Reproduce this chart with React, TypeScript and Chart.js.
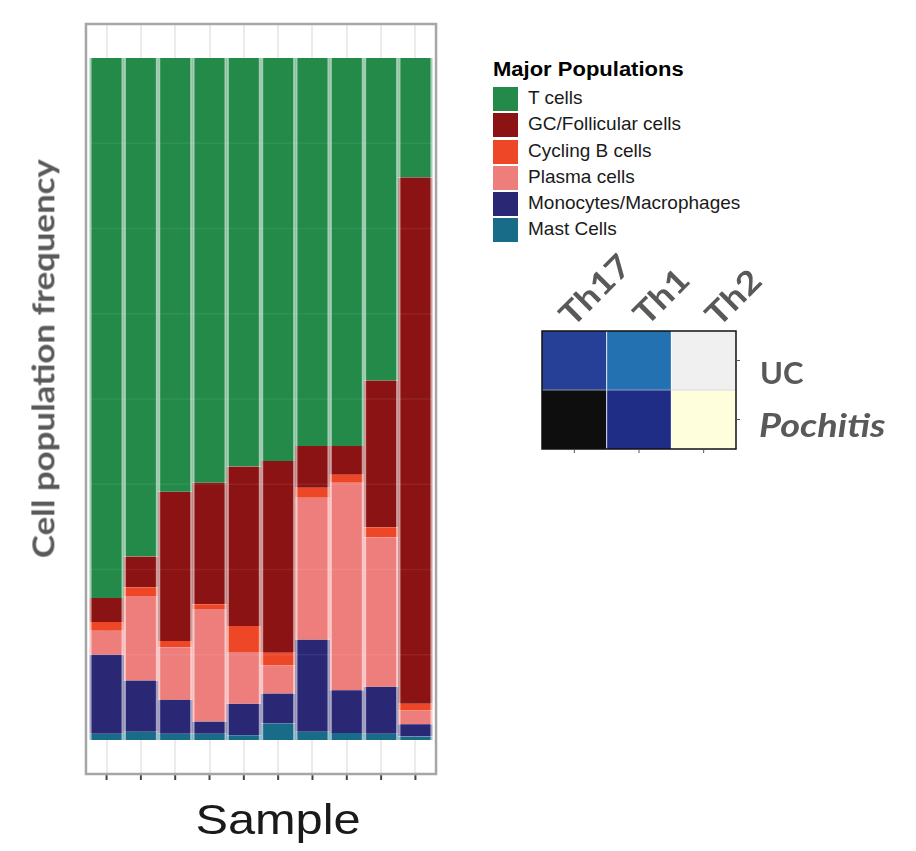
import React, { useEffect, useRef } from "react";
import { Chart, registerables } from "chart.js";

Chart.register(...registerables);

// ---------- data ----------
const samples = ["S1", "S2", "S3", "S4", "S5", "S6", "S7", "S8", "S9", "S10"];
const populations = [
  "T cells",
  "GC/Follicular cells",
  "Cycling B cells",
  "Plasma cells",
  "Monocytes/Macrophages",
  "Mast Cells",
];
const popColors = ["#238a49", "#8b1313", "#ee4727", "#ee7e7c", "#2a2774", "#186c88"];

const tCells = [0.792, 0.731, 0.636, 0.623, 0.599, 0.591, 0.569, 0.569, 0.473, 0.175];
const gcCells = [0.035, 0.045, 0.219, 0.178, 0.234, 0.281, 0.061, 0.042, 0.215, 0.772];
const cyclingB = [0.013, 0.013, 0.009, 0.007, 0.038, 0.019, 0.015, 0.012, 0.015, 0.01];
const plasmaCells = [0.035, 0.124, 0.077, 0.165, 0.076, 0.041, 0.208, 0.304, 0.219, 0.02];
const monoMac = [0.116, 0.075, 0.05, 0.018, 0.046, 0.044, 0.135, 0.063, 0.069, 0.018];
const mastCells = [0.009, 0.012, 0.009, 0.009, 0.007, 0.024, 0.012, 0.01, 0.009, 0.005];

const heatCols = ["Th17", "Th1", "Th2"];
const heatRows = ["UC", "Pochitis"];
const ucColors = ["#263f97", "#2471b1", "#f0f0f0"];
const pochitisColors = ["#0e0e0e", "#1f2d86", "#fefedc"];

// ---------- helpers ----------
function alpha(hex: string, a: number) {
  const n = parseInt(hex.slice(1), 16);
  return `rgba(${(n >> 16) & 255},${(n >> 8) & 255},${n & 255},${a})`;
}

const ARIAL = "'Liberation Sans', Arial, sans-serif";
const LATO = "Lato, sans-serif";
const K_ARIAL = 0.8465;
const K_LATO = 0.887;

type LP = {
  x: number;
  y: number;
  size: number;
  font: string;
  k: number;
  color: string;
  text: string;
  weight?: number;
  italic?: boolean;
  align?: "left" | "center";
  rotate?: number;
  sx?: number;
};

function Label(p: LP) {
  const w = 600;
  const center = p.align === "center";
  const left = center ? p.x - w / 2 : p.x;
  const ox = center ? w / 2 : 0;
  const oy = p.k * p.size;
  return (
    <div
      style={{
        position: "absolute",
        left,
        top: p.y - oy,
        width: w,
        height: p.size,
        lineHeight: `${p.size}px`,
        fontSize: p.size,
        fontFamily: p.font,
        fontWeight: p.weight || 400,
        fontStyle: p.italic ? "italic" : "normal",
        color: p.color,
        textAlign: center ? "center" : "left",
        whiteSpace: "nowrap",
        transformOrigin: `${ox}px ${oy}px`,
        transform: `rotate(${p.rotate || 0}deg) scaleX(${p.sx || 1})`,
      }}
    >
      {p.text}
    </div>
  );
}

// ---------- plugins ----------
const panelPlugin = {
  id: "panelDecor",
  afterDraw(chart: any) {
    const { ctx, chartArea: a, scales } = chart;
    const x = scales.x;
    const y = scales.y;
    const cat = a.width / samples.length;
    const l = a.left - 0.1 * cat;
    const r = a.right + 0.1 * cat;
    ctx.save();
    // faint grid showing through bars
    ctx.strokeStyle = "rgba(255,255,255,0.07)";
    ctx.lineWidth = 1.5;
    [0.125, 0.25, 0.375, 0.5, 0.625, 0.75, 0.875].forEach((v) => {
      const py = y.getPixelForValue(v);
      ctx.beginPath();
      ctx.moveTo(l, py);
      ctx.lineTo(r, py);
      ctx.stroke();
    });
    // panel border
    ctx.strokeStyle = "#a6a6a6";
    ctx.lineWidth = 2.5;
    ctx.strokeRect(l, a.top, r - l, a.bottom - a.top);
    // ticks
    ctx.strokeStyle = "#444444";
    ctx.lineWidth = 2;
    samples.forEach((_, i) => {
      const px = x.getPixelForValue(i);
      ctx.beginPath();
      ctx.moveTo(px, a.bottom + 1.25);
      ctx.lineTo(px, a.bottom + 6);
      ctx.stroke();
    });
    ctx.restore();
  },
};

const heatPlugin = {
  id: "heatDecor",
  afterDraw(chart: any) {
    const { ctx, chartArea: a, scales } = chart;
    const x = scales.x;
    const y = scales.y;
    const cat = a.width / heatCols.length;
    ctx.save();
    // separators
    ctx.strokeStyle = "rgba(255,255,255,0.9)";
    ctx.lineWidth = 1;
    for (let i = 0; i < heatCols.length - 1; i++) {
      const px = x.getPixelForValue(i) + cat / 2;
      ctx.beginPath();
      ctx.moveTo(px, a.top);
      ctx.lineTo(px, a.bottom);
      ctx.stroke();
    }
    ctx.strokeStyle = "rgba(200,205,225,0.7)";
    const ry = y.getPixelForValue(1);
    ctx.beginPath();
    ctx.moveTo(a.left, ry);
    ctx.lineTo(a.right, ry);
    ctx.stroke();
    // frame
    ctx.strokeStyle = "#111111";
    ctx.lineWidth = 1.5;
    ctx.strokeRect(a.left, a.top, a.right - a.left, a.bottom - a.top);
    // ticks
    ctx.strokeStyle = "#555555";
    ctx.lineWidth = 1;
    heatCols.forEach((_, i) => {
      const px = x.getPixelForValue(i);
      ctx.beginPath();
      ctx.moveTo(px, a.bottom + 0.75);
      ctx.lineTo(px, a.bottom + 4);
      ctx.stroke();
    });
    [0.5, 1.5].forEach((v) => {
      const py = y.getPixelForValue(v);
      ctx.beginPath();
      ctx.moveTo(a.right + 0.75, py);
      ctx.lineTo(a.right + 4, py);
      ctx.stroke();
    });
    ctx.restore();
  },
};

export default function App() {
  const barRef = useRef<HTMLCanvasElement>(null);
  const heatRef = useRef<HTMLCanvasElement>(null);

  useEffect(() => {
    const series = [mastCells, monoMac, plasmaCells, cyclingB, gcCells, tCells];
    const order = [5, 4, 3, 2, 1, 0];
    const datasets = series.map((data, j) => {
      const ci = order[j];
      return {
        label: populations[ci],
        data,
        backgroundColor: popColors[ci],
        borderColor: alpha(popColors[ci], 0.42),
        borderWidth: { left: 2.5, right: 2.5, top: 0, bottom: 0 },
        borderSkipped: false,
        barPercentage: 1,
        categoryPercentage: 1,
      };
    });

    const bar = new Chart(barRef.current as HTMLCanvasElement, {
      type: "bar",
      data: { labels: samples, datasets: datasets as any },
      options: {
        animation: false,
        responsive: false,
        maintainAspectRatio: false,
        layout: { padding: { left: 89.4, right: 27.4, top: 24, bottom: 26 } },
        plugins: { legend: { display: false }, tooltip: { enabled: false } },
        scales: {
          x: {
            stacked: true,
            offset: true,
            grid: { offset: false, color: "#ebebeb", lineWidth: 2, drawTicks: false },
            border: { display: false },
            ticks: { display: false },
            afterFit: (s: any) => {
              s.height = 0;
            },
          },
          y: {
            stacked: true,
            min: -0.05,
            max: 1.05,
            grid: { display: false },
            border: { display: false },
            ticks: { display: false },
            afterFit: (s: any) => {
              s.width = 0;
            },
          },
        },
      } as any,
      plugins: [panelPlugin],
    });

    const heat = new Chart(heatRef.current as HTMLCanvasElement, {
      type: "bar",
      data: {
        labels: heatCols,
        datasets: [
          {
            label: heatRows[1],
            data: heatCols.map(() => 1),
            backgroundColor: pochitisColors,
            borderWidth: 0,
            barPercentage: 1,
            categoryPercentage: 1,
          },
          {
            label: heatRows[0],
            data: heatCols.map(() => 1),
            backgroundColor: ucColors,
            borderWidth: 0,
            barPercentage: 1,
            categoryPercentage: 1,
          },
        ],
      },
      options: {
        animation: false,
        responsive: false,
        maintainAspectRatio: false,
        layout: { padding: { left: 12, right: 174, top: 81, bottom: 21 } },
        plugins: { legend: { display: false }, tooltip: { enabled: false } },
        scales: {
          x: {
            stacked: true,
            offset: true,
            grid: { display: false },
            border: { display: false },
            ticks: { display: false },
            afterFit: (s: any) => {
              s.height = 0;
            },
          },
          y: {
            stacked: true,
            min: 0,
            max: 2,
            grid: { display: false },
            border: { display: false },
            ticks: { display: false },
            afterFit: (s: any) => {
              s.width = 0;
            },
          },
        },
      } as any,
      plugins: [heatPlugin],
    });

    return () => {
      bar.destroy();
      heat.destroy();
    };
  }, []);

  const thAnchors = [
    [573, 328],
    [647, 327],
    [719, 328],
  ];

  return (
    <div
      style={{
        position: "absolute",
        left: 0,
        top: 0,
        width: 916,
        height: 851,
        background: "#ffffff",
        overflow: "hidden",
      }}
    >
      <canvas
        ref={barRef}
        width={460}
        height={800}
        style={{ position: "absolute", left: 0, top: 0, width: 460, height: 800 }}
      />
      <canvas
        ref={heatRef}
        width={380}
        height={220}
        style={{ position: "absolute", left: 530, top: 250, width: 380, height: 220 }}
      />

      <Label
        x={54}
        y={358.5}
        size={30}
        font={LATO}
        k={K_LATO}
        weight={700}
        color="#595959"
        text="Cell population frequency"
        align="center"
        rotate={-90}
        sx={1.16}
      />
      <Label
        x={277.5}
        y={835}
        size={42}
        font={ARIAL}
        k={K_ARIAL}
        color="#1a1a1a"
        text="Sample"
        align="center"
        sx={1.16}
      />

      <Label
        x={493}
        y={75.7}
        size={20}
        font={ARIAL}
        k={K_ARIAL}
        weight={700}
        color="#000000"
        text="Major Populations"
        sx={1.1}
      />
      {populations.map((p, i) => (
        <React.Fragment key={p}>
          <div
            style={{
              position: "absolute",
              left: 493,
              top: 87 + 26.25 * i,
              width: 25,
              height: 24,
              background: popColors[i],
            }}
          />
          <Label
            x={528}
            y={104.3 + 26.25 * i}
            size={19}
            font={ARIAL}
            k={K_ARIAL}
            color="#1a1a1a"
            text={p}
          />
        </React.Fragment>
      ))}

      {heatCols.map((c, i) => (
        <Label
          key={c}
          x={thAnchors[i][0]}
          y={thAnchors[i][1]}
          size={32}
          font={LATO}
          k={K_LATO}
          weight={700}
          color="#595959"
          text={c}
          rotate={-45}
          sx={1.15}
        />
      ))}
      <Label x={760} y={384.3} size={31} font={LATO} k={K_LATO} weight={700} color="#595959" text={heatRows[0]} />
      <Label
        x={759}
        y={437}
        size={33}
        font={LATO}
        k={K_LATO}
        weight={700}
        italic
        color="#595959"
        text={heatRows[1]}
        sx={1.15}
      />
    </div>
  );
}
